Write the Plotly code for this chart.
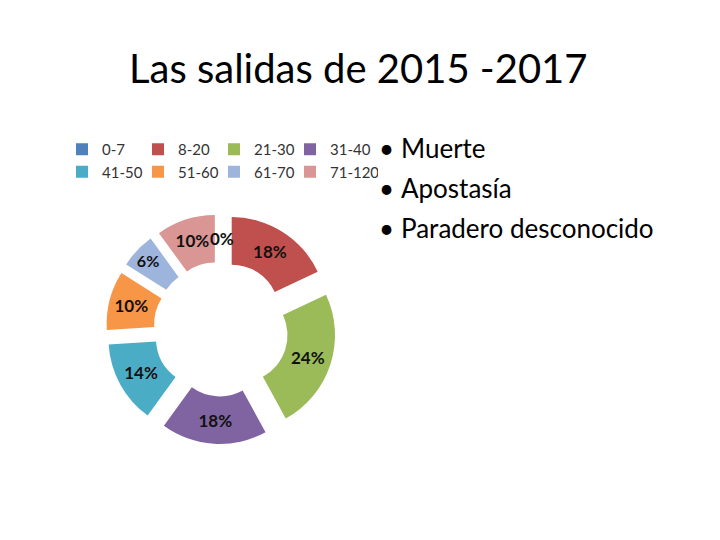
import plotly.graph_objects as go

categories = ["0-7", "8-20", "21-30", "31-40", "41-50", "51-60", "61-70", "71-120"]
percent_values = [0, 18, 24, 18, 14, 10, 6, 10]
colors = ["#4F81BD", "#C0504D", "#9BBB59", "#8064A2", "#4BACC6", "#F79646", "#9DB4DC", "#D99694"]
bullets = ["Muerte", "Apostasía", "Paradero desconocido"]
title_text = "Las salidas de 2015 -2017"

FONT = "Lato, 'Open Sans', sans-serif"
W, H = 720, 540
ML, MR = 55, 305
PW = W - ML - MR

# pie geometry (pixels)
CX, CY, HALF = 221, 329, 115


def px_x(x):
    return (x - ML) / PW


def px_y(y):
    return 1 - y / H


fig = go.Figure()
fig.add_trace(go.Pie(
    labels=categories,
    values=percent_values,
    marker=dict(colors=colors, line=dict(color="white", width=0)),
    hole=0.5,
    pull=[0.21] * len(categories),
    sort=False,
    direction="clockwise",
    rotation=0,
    textinfo="percent",
    texttemplate="%{percent:.0%}",
    textposition="inside",
    insidetextorientation="horizontal",
    textfont=dict(family=FONT, size=17, color="#111111", weight="bold"),
    domain=dict(x=[px_x(CX - HALF), px_x(CX + HALF)],
                y=[px_y(CY + HALF), px_y(CY - HALF)]),
    showlegend=True,
))

annotations = [
    dict(text=title_text, x=px_x(358), y=px_y(68), xref="paper", yref="paper",
         showarrow=False, font=dict(family=FONT, size=40, color="#000000"),
         xanchor="center", yanchor="middle"),
]
# label of the zero-valued slice (Plotly does not label empty slices)
zero_label = "{:.0%}".format(percent_values[0] / sum(percent_values))
annotations.append(dict(
    text=zero_label, x=px_x(CX + 1), y=px_y(238), xref="paper", yref="paper",
    showarrow=False, font=dict(family=FONT, size=17, color="#111111", weight="bold"),
    xanchor="center", yanchor="middle"))

for i, b in enumerate(bullets):
    yy = px_y(148 + i * 40)
    annotations.append(dict(
        text="•", x=px_x(377), y=yy, xref="paper", yref="paper",
        showarrow=False, font=dict(family=FONT, size=26, color="#000000"),
        xanchor="left", yanchor="middle"))
    annotations.append(dict(
        text=b, x=px_x(399), y=yy, xref="paper", yref="paper",
        showarrow=False, font=dict(family=FONT, size=26, color="#000000"),
        xanchor="left", yanchor="middle"))

fig.update_layout(
    width=W, height=H,
    paper_bgcolor="white", plot_bgcolor="white",
    margin=dict(l=ML, r=MR, t=0, b=0),
    legend=dict(
        orientation="h", x=px_x(74), y=px_y(133), xanchor="left", yanchor="top",
        entrywidth=43, itemwidth=30, indentation=-12, tracegroupgap=0,
        font=dict(family=FONT, size=15, color="#333333"),
        bgcolor="rgba(0,0,0,0)",
    ),
    annotations=annotations,
)

fig.write_html("out.html", config={"displayModeBar": False},
               post_script="document.body.style.margin='0';")
